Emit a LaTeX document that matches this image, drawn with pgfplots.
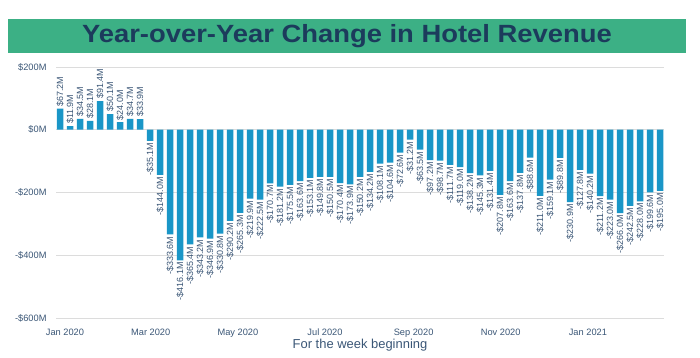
\documentclass[border=0pt]{standalone}
\usepackage{pgfplots}
\pgfplotsset{compat=1.18}
\usepackage{fontspec}
\setmainfont{Liberation Sans}
\definecolor{barblue}{HTML}{1A96C7}
\definecolor{titlegreen}{HTML}{3CB085}
\definecolor{titlenavy}{HTML}{1C3B5C}
\definecolor{tickcol}{HTML}{3A5676}
\definecolor{gridcol}{HTML}{DCDCDC}
\begin{document}
\begin{tikzpicture}[x=1bp,y=1bp]
\useasboundingbox (0,0) rectangle (700,357);
\fill[titlegreen] (8,304) rectangle (686,338);
\node[text=titlenavy, font=\bfseries\fontsize{25}{28}\selectfont] at (347,320.5) {\scalebox{1.1}[1]{Year-over-Year Change in Hotel Revenue}};
\begin{axis}[
  at={(56bp,39bp)}, anchor=south west,
  scale only axis, width=608bp, height=251bp,
  xmin=-0.4, xmax=60.4, ymin=-600, ymax=200,
  axis line style={draw=none}, tick style={draw=none},
  ymajorgrids=true, major grid style={gridcol, line width=0.8pt},
  ytick={-600,-400,-200,0,200},
  yticklabels={-\$600M,-\$400M,-\$200M,\$0M,\$200M},
  xtick={0.5,9.07,17.79,26.5,35.36,44.07,52.79},
  xticklabels={Jan 2020,Mar 2020,May 2020,Jul 2020,Sep 2020,Nov 2020,Jan 2021},
  ticklabel style={font=\fontsize{9.3}{11}\selectfont, text=tickcol},
  yticklabel style={xshift=-6bp},
  xticklabel style={yshift=-3bp},
  xlabel={For the week beginning},
  xlabel style={at={(axis description cs:0.5,0)}, anchor=center, yshift=-27bp, font=\fontsize{13}{15}\selectfont, text=tickcol},
  ybar, bar width=6.5bp,
  clip=false,
]
\addplot[fill=barblue, draw=none, bar shift=0pt,
  nodes near coords={\$\pgfmathprintnumber[fixed,fixed zerofill,precision=1,assume math mode=true]{\pgfplotspointmeta}M},
  nodes near coords style={rotate=90, anchor=west, inner sep=2bp, font=\fontsize{9}{10}\selectfont, text=tickcol}]
table[x=x, y=y] {
x y
0 67.2
1 11.9
2 34.5
3 28.1
4 91.4
5 50.1
6 24.0
7 34.7
8 33.9
};
\addplot[fill=barblue, draw=none, bar shift=0pt,
  point meta=explicit symbolic,
  nodes near coords={-\$\pgfplotspointmeta M},
  nodes near coords style={rotate=90, anchor=east, inner sep=2bp, font=\fontsize{9}{10}\selectfont, text=tickcol}]
table[x=x, y=y, meta=lab] {
x y lab
9 -35.1 35.1
10 -144.0 144.0
11 -333.6 333.6
12 -416.1 416.1
13 -365.4 365.4
14 -343.2 343.2
15 -346.9 346.9
16 -330.8 330.8
17 -290.2 290.2
18 -265.3 265.3
19 -219.9 219.9
20 -222.5 222.5
21 -170.7 170.7
22 -181.2 181.2
23 -175.5 175.5
24 -163.6 163.6
25 -153.1 153.1
26 -149.8 149.8
27 -150.5 150.5
28 -170.4 170.4
29 -173.9 173.9
30 -150.2 150.2
31 -134.2 134.2
32 -108.1 108.1
33 -104.6 104.6
34 -72.6 72.6
35 -31.2 31.2
36 -63.5 63.5
37 -97.2 97.2
38 -98.7 98.7
39 -111.7 111.7
40 -119.0 119.0
41 -138.2 138.2
42 -145.3 145.3
43 -131.4 131.4
44 -207.8 207.8
45 -163.6 163.6
46 -137.8 137.8
47 -88.6 88.6
48 -211.0 211.0
49 -159.1 159.1
50 -89.8 89.8
51 -230.9 230.9
52 -127.8 127.8
53 -140.2 140.2
54 -211.2 211.2
55 -223.0 223.0
56 -266.0 266.0
57 -242.5 242.5
58 -228.0 228.0
59 -199.6 199.6
60 -195.0 195.0
};
\end{axis}
\end{tikzpicture}
\end{document}
